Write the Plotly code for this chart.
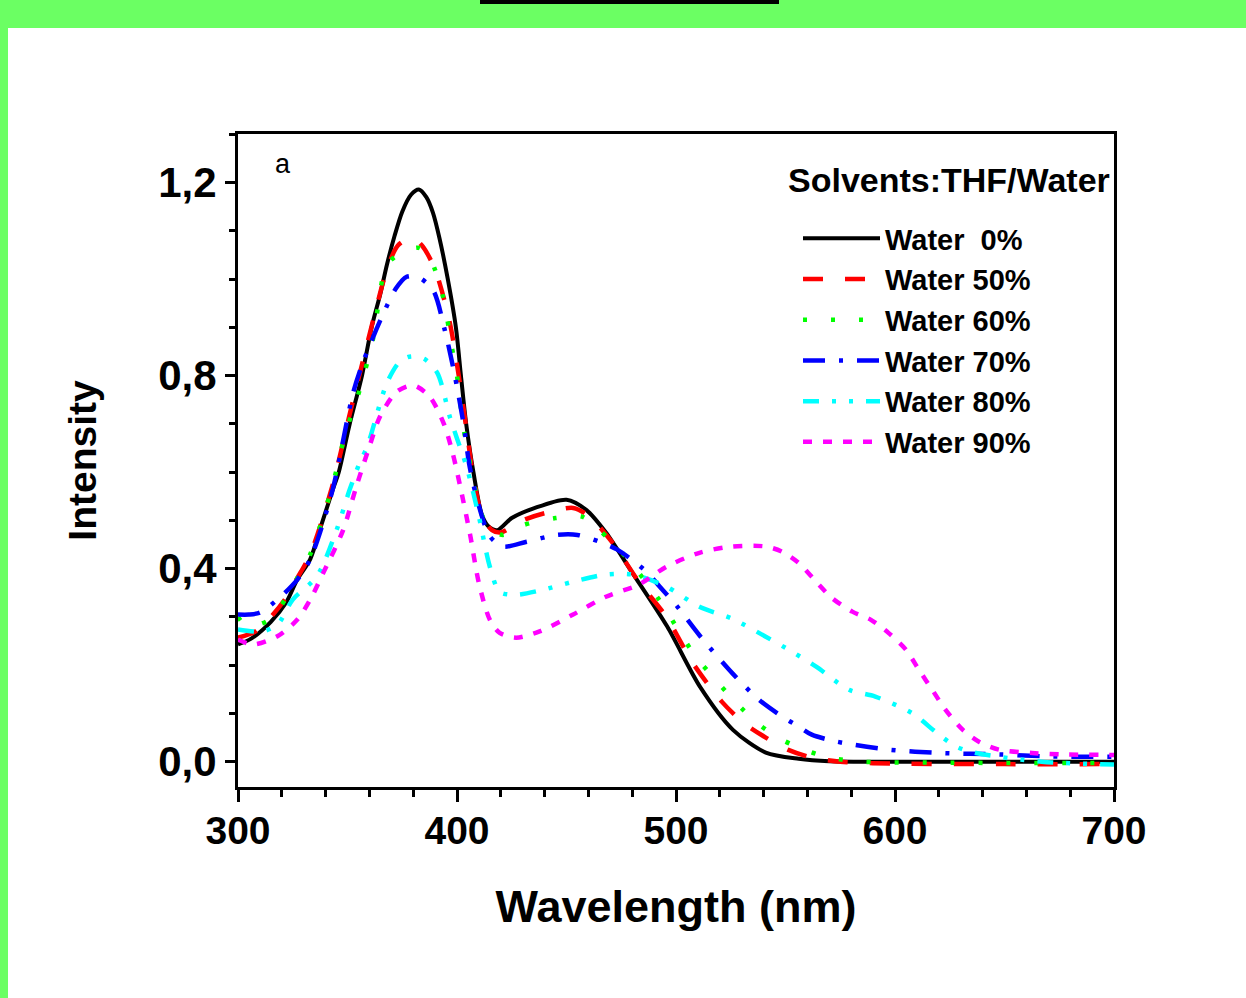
import plotly.graph_objects as go

# ---------------- data ----------------
labels = ["Water\u00a0\u00a00%", "Water 50%", "Water 60%", "Water 70%", "Water 80%", "Water 90%"]

wl_0 = [300, 306, 315, 322, 327, 333, 338, 343, 346, 351, 356.6, 361, 365, 368, 371.5, 375, 379,
        382.6, 386, 389, 392, 395.8, 399.5, 401.8, 404.2, 407.5, 411.5, 415, 418.5, 425, 435,
        450, 459, 468, 480, 496, 511, 526, 541, 556, 570, 600, 650, 700]
int_0 = [0.243, 0.255, 0.29, 0.33, 0.377, 0.42, 0.49, 0.56, 0.60, 0.70, 0.80, 0.90, 0.97, 1.03,
         1.09, 1.14, 1.175, 1.186, 1.17, 1.138, 1.085, 1.00, 0.90, 0.80, 0.70, 0.60, 0.51, 0.485,
         0.48, 0.505, 0.525, 0.543, 0.522, 0.475, 0.392, 0.28, 0.155, 0.066, 0.019, 0.006, 0.001,
         0.0, 0.0, 0.0]

wl_50 = [300, 308, 315, 322, 327, 333, 343, 351, 357, 362, 368, 373, 379.4, 384, 390, 396.7,
         400.8, 404.3, 407.5, 411.5, 416, 420, 430, 440, 453, 460, 471, 483, 495.6, 507.6, 521,
         531, 541, 551, 561, 575, 600, 650, 700]
int_50 = [0.257, 0.27, 0.30, 0.34, 0.38, 0.43, 0.57, 0.72, 0.83, 0.92, 1.02, 1.07, 1.086, 1.07,
          1.02, 0.91, 0.80, 0.69, 0.59, 0.51, 0.48, 0.475, 0.50, 0.515, 0.526, 0.51, 0.454, 0.373,
          0.30, 0.205, 0.124, 0.08, 0.05, 0.025, 0.01, 0.0, -0.004, -0.005, -0.005]

wl_60 = [300, 303, 310, 316, 322, 327, 333, 343, 349, 355.6, 361.6, 368, 375, 382.6, 388, 393.6,
         397.6, 399.8, 402.7, 406.7, 411.5, 416, 421, 430, 445, 457, 465, 477, 494, 501, 509,
         518, 527.5, 538, 548.6, 561, 571, 585, 620, 700]
int_60 = [0.30, 0.285, 0.285, 0.30, 0.34, 0.38, 0.43, 0.57, 0.68, 0.771, 0.875, 1.03, 1.055,
          1.065, 1.04, 0.964, 0.86, 0.806, 0.70, 0.60, 0.51, 0.48, 0.47, 0.49, 0.505, 0.508,
          0.48, 0.425, 0.325, 0.273, 0.218, 0.17, 0.122, 0.077, 0.045, 0.021, 0.008, 0.0,
          -0.002, -0.003]

wl_70 = [300, 305, 310, 319, 327, 333, 343, 352.6, 357, 365.7, 372, 377, 382, 389, 394.4, 399,
         403, 405.8, 410, 415, 421, 431.8, 445.5, 455, 465, 473, 486.5, 492.5, 500, 510.7, 526,
         538, 549, 556, 562, 573, 597, 621, 647.5, 670, 700]
int_70 = [0.305, 0.305, 0.309, 0.34, 0.377, 0.42, 0.56, 0.765, 0.827, 0.922, 0.98, 1.005, 1.005,
          0.978, 0.895, 0.80, 0.70, 0.611, 0.53, 0.467, 0.446, 0.456, 0.47, 0.47, 0.456, 0.44,
          0.394, 0.363, 0.325, 0.262, 0.182, 0.128, 0.092, 0.073, 0.056, 0.042, 0.025, 0.018,
          0.015, 0.011, 0.01]

wl_80 = [300, 311, 318, 325, 336, 345, 351, 355.6, 359, 368, 374, 379, 385, 391, 396.7, 400,
         404.4, 410, 415, 419.5, 427, 439, 453, 468, 480, 495.6, 510.7, 525.8, 541, 553, 564,
         579, 591, 608, 619, 628, 637, 667, 700]
int_80 = [0.274, 0.27, 0.284, 0.336, 0.384, 0.48, 0.564, 0.62, 0.653, 0.785, 0.83, 0.84, 0.835,
          0.806, 0.715, 0.67, 0.611, 0.508, 0.404, 0.352, 0.346, 0.356, 0.373, 0.388, 0.388,
          0.363, 0.321, 0.296, 0.259, 0.228, 0.197, 0.149, 0.135, 0.10, 0.06, 0.031, 0.018,
          0.0, -0.006]

wl_90 = [300, 307, 318, 327, 333, 339, 348, 354, 360, 364.8, 372.5, 380, 387.5, 394, 398, 401.5,
         406, 410, 415, 419.5, 427, 437.7, 453, 468, 483, 495.6, 510.7, 525.8, 541, 548.6, 556,
         564, 571, 580.5, 589, 597, 605, 611, 617, 623, 631, 638.5, 647.5, 662.6, 678, 700]
int_90 = [0.253, 0.243, 0.26, 0.294, 0.336, 0.392, 0.48, 0.57, 0.653, 0.715, 0.767, 0.78, 0.757,
          0.70, 0.64, 0.57, 0.47, 0.37, 0.294, 0.267, 0.257, 0.27, 0.305, 0.342, 0.367, 0.404,
          0.433, 0.446, 0.446, 0.435, 0.412, 0.373, 0.34, 0.311, 0.294, 0.267, 0.232, 0.19,
          0.149, 0.108, 0.066, 0.041, 0.025, 0.018, 0.015, 0.014]

x_ticks = [300, 400, 500, 600, 700]
y_ticks = [0.0, 0.4, 0.8, 1.2]

series = [
    (wl_0, int_0, "#000000", "solid", 4),
    (wl_50, int_50, "#ff0000", "20px,22px", 4.5),
    (wl_60, int_60, "#00ff00", "4px,24px", 4.5),
    (wl_70, int_70, "#0000ff", "22px,14px,4px,14px", 4.5),
    (wl_80, int_80, "#00ffff", "16px,13px,4px,13px,4px,13px", 4.5),
    (wl_90, int_90, "#ff00ff", "9px,11px", 4.5),
]

# ---------------- figure ----------------
W, H = 1246, 998
L, R, T, B = 238, 1114, 134, 787  # plot-area pixel edges


def px(xp):
    return (xp - L) / (R - L)


def py(yp):
    return (B - yp) / (B - T)


fig = go.Figure()
for (xs, ys, col, dash, lw), name in zip(series, labels):
    fig.add_trace(go.Scatter(
        x=xs, y=ys, mode="lines", name=name,
        line=dict(color=col, dash=dash, width=lw, shape="spline", smoothing=0.8),
    ))

font_b = "Liberation Sans, Arial, sans-serif"

fig.update_layout(
    width=W, height=H,
    margin=dict(l=L, r=W - R, t=T, b=H - B, pad=0),
    paper_bgcolor="white",
    plot_bgcolor="white",
    separators=",.",
    showlegend=True,
    legend=dict(
        x=px(798), y=py(213), xanchor="left", yanchor="top",
        bgcolor="rgba(0,0,0,0)",
        font=dict(family=font_b, size=29, color="black", weight="bold"),
        itemwidth=77,
        tracegroupgap=0,
    ),
    shapes=[
        dict(type="rect", xref="paper", yref="paper", x0=px(-10), x1=px(W + 10),
             y0=py(28), y1=py(-10), fillcolor="#6bff63", line=dict(width=0), layer="below"),
        dict(type="rect", xref="paper", yref="paper", x0=px(-10), x1=px(8),
             y0=py(H + 10), y1=py(28), fillcolor="#6bff63", line=dict(width=0), layer="below"),
        dict(type="rect", xref="paper", yref="paper", x0=px(480), x1=px(779),
             y0=py(4), y1=py(-10), fillcolor="black", line=dict(width=0), layer="below"),
    ],
    annotations=[
        dict(text="Solvents:THF/Water", xref="paper", yref="paper", x=px(786), y=py(180),
             xanchor="left", yanchor="middle", showarrow=False,
             font=dict(family=font_b, size=34, color="black", weight="bold")),
        dict(text="a", xref="paper", yref="paper", x=px(283), y=py(164),
             xanchor="center", yanchor="middle", showarrow=False,
             font=dict(family=font_b, size=27, color="black")),
    ],
)

fig.update_xaxes(
    range=[300, 700],
    tickmode="array", tickvals=x_ticks, ticktext=[str(v) for v in x_ticks],
    ticks="outside", ticklen=12, tickwidth=3, tickcolor="black",
    minor=dict(dtick=20, tick0=300, ticks="outside", ticklen=7, tickwidth=2.5, tickcolor="black"),
    showline=True, linewidth=3, linecolor="black", mirror=True,
    showgrid=False, zeroline=False,
    ticklabelstandoff=-5,
    tickfont=dict(family=font_b, size=39, color="black", weight="bold"),
    title=dict(text="Wavelength (nm)", standoff=40,
               font=dict(family=font_b, size=45, color="black", weight="bold")),
)
fig.update_yaxes(
    range=[(B - 761.7) / -482.5, (761.7 - T) / 482.5],
    tickmode="array", tickvals=y_ticks, ticktext=[f"{v:.1f}".replace(".", ",") for v in y_ticks],
    ticks="outside", ticklen=10, tickwidth=3, tickcolor="black",
    minor=dict(dtick=0.1, tick0=0, ticks="outside", ticklen=6, tickwidth=2.5, tickcolor="black"),
    showline=True, linewidth=3, linecolor="black", mirror=True,
    showgrid=False, zeroline=False,
    tickfont=dict(family=font_b, size=42, color="black", weight="bold"),
    title=dict(text="Intensity", standoff=50,
               font=dict(family=font_b, size=39, color="black", weight="bold")),
)

fig.write_html("out.html", config={"displayModeBar": False},
               post_script="document.body.style.margin='0';")
